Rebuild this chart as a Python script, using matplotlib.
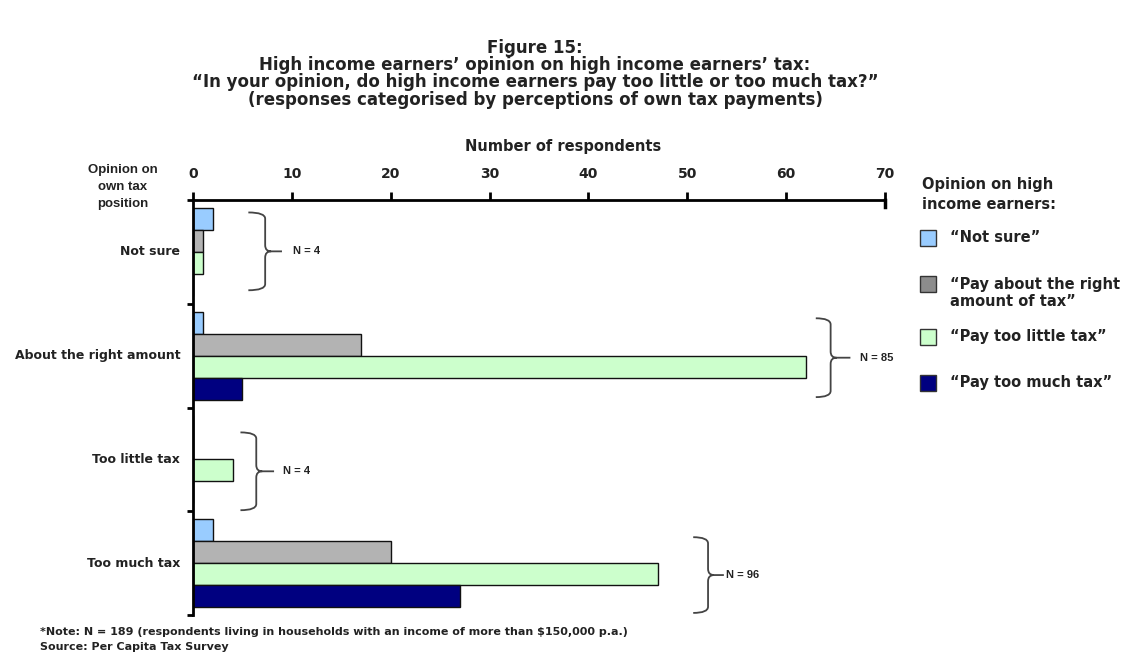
import matplotlib.pyplot as plt
import numpy as np
from matplotlib.path import Path
from matplotlib.patches import PathPatch, Rectangle

plt.rcParams['font.family'] = ['Liberation Sans', 'DejaVu Sans']
plt.rcParams['font.weight'] = 'bold'
WIDE = ['DejaVu Sans']

groups = ["Not sure", "About the right amount", "Too little tax", "Too much tax"]
series = ["\u201cNot sure\u201d", "\u201cPay about the right\namount of tax\u201d",
          "\u201cPay too little tax\u201d", "\u201cPay too much tax\u201d"]
not_sure = [2, 1, 0, 2]
about_right = [1, 17, 0, 20]
too_little = [1, 62, 4, 47]
too_much = [0, 5, 0, 27]
group_n = [4, 85, 4, 96]

colors = ["#99ccff", "#b3b3b3", "#ccffcc", "#000080"]
legend_colors = ["#99ccff", "#8c8c8c", "#ccffcc", "#000080"]
txt = "#222222"

W, H = 1126, 668
fig = plt.figure(figsize=(W / 100, H / 100), dpi=100)

def fx(px):
    return px / W

def fy(py):
    return 1 - py / H

ax = fig.add_axes([fx(193), fy(615), fx(885) - fx(193), fy(200) - fy(615)])

y = np.arange(len(groups))
h = 0.212
values = [not_sure, about_right, too_little, too_much]
for i, (vals, c) in enumerate(zip(values, colors)):
    ax.barh(y + (i - 1.5) * h, vals, height=h, color=c, edgecolor="#111111", linewidth=1.0)

ax.set_xlim(0, 70)
ax.set_ylim(3.5, -0.5)
ax.xaxis.tick_top()
ax.set_xticks(range(0, 71, 10))
ax.tick_params(axis="x", direction="out", length=6, width=2, pad=8, labelsize=10, labelcolor=txt)
ax.set_yticks(np.arange(-0.5, 3.6, 1))
ax.set_yticklabels([])
ax.tick_params(axis="y", direction="out", length=4, width=2)
for lab in ax.get_xticklabels():
    lab.set_fontweight("bold")
    lab.set_family(WIDE)
for s in ["right", "bottom"]:
    ax.spines[s].set_visible(False)
for s in ["top", "left"]:
    ax.spines[s].set_linewidth(2)
ax.plot([70, 70], [-0.5, -0.43], color="black", lw=2.5, clip_on=False)

for yi, name in zip(y, groups):
    ax.text(-1.3, yi, name, ha="right", va="center", fontsize=9, color=txt, family=WIDE)

def brace(xl, xv, xt, xe, y0, y1, label, xtxt):
    ym = (y0 + y1) / 2
    d = 0.06
    verts = [(xl, y0), (xv, y0), (xv, y0 + d), (xv, ym - d), (xv, ym), (xt, ym),
             (xe, ym), (xt, ym), (xv, ym), (xv, ym + d), (xv, y1 - d), (xv, y1), (xl, y1)]
    codes = [Path.MOVETO, Path.CURVE3, Path.CURVE3, Path.LINETO, Path.CURVE3, Path.CURVE3,
             Path.LINETO, Path.MOVETO, Path.CURVE3, Path.CURVE3, Path.LINETO, Path.CURVE3, Path.CURVE3]
    ax.add_patch(PathPatch(Path(verts, codes), fill=False, edgecolor="#444444", lw=1.3, clip_on=False))
    ax.text(xtxt, ym, label, ha="left", va="center", fontsize=8, color=txt, clip_on=False)

brace(5.6, 7.3, 7.9, 9.0, -0.38, 0.37, "N = %d" % group_n[0], 10.1)
brace(63.0, 64.5, 65.1, 66.5, 0.64, 1.40, "N = %d" % group_n[1], 67.5)
brace(4.8, 6.4, 7.0, 8.2, 1.74, 2.49, "N = %d" % group_n[2], 9.1)
brace(50.6, 52.1, 52.7, 53.7, 2.75, 3.48, "N = %d" % group_n[3], 53.9)

title_lines = ["Figure 15:",
               "High income earners\u2019 opinion on high income earners\u2019 tax:",
               "\u201cIn your opinion, do high income earners pay too little or too much tax?\u201d",
               "(responses categorised by perceptions of own tax payments)"]
for ty, line in zip([48, 65, 82, 100], title_lines):
    fig.text(fx(535), fy(ty), line, ha="center", va="center", fontsize=12, color=txt, family=WIDE)

fig.text(fx(563), fy(146), "Number of respondents", ha="center", va="center", fontsize=10.5,
         color=txt, family=WIDE)
for ty, line in zip([170, 187, 204], ["Opinion on", "own tax", "position"]):
    fig.text(fx(123), fy(ty), line, ha="center", va="center", fontsize=9.5, color=txt)

for ty, line in zip([185, 204], ["Opinion on high", "income earners:"]):
    fig.text(fx(922), fy(ty), line, ha="left", va="center", fontsize=10.5, color=txt, family=WIDE)
leg_y = [238, 284, 337, 383]
for ly, lab, c in zip(leg_y, series, legend_colors):
    fig.patches.append(Rectangle((fx(920), fy(ly + 8)), fx(16), 16 / H, transform=fig.transFigure,
                                 facecolor=c, edgecolor="#333333", lw=1, figure=fig))
    for k, part in enumerate(lab.split("\n")):
        fig.text(fx(950), fy(ly + 17 * k), part, ha="left", va="center", fontsize=10.5,
                 color=txt, family=WIDE)

fig.text(fx(40), fy(632), "*Note: N = 189 (respondents living in households with an income of more than $150,000 p.a.)",
         ha="left", va="center", fontsize=8, color=txt, family=WIDE)
fig.text(fx(40), fy(647), "Source: Per Capita Tax Survey", ha="left", va="center", fontsize=8,
         color=txt, family=WIDE)

fig.savefig("out.png", dpi=100)
